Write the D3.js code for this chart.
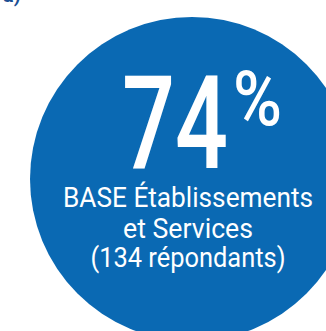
<!DOCTYPE html>
<html>
<head>
<meta charset="utf-8">
<script src="https://cdn.jsdelivr.net/npm/d3@7"></script>
<style>
  html, body { margin: 0; padding: 0; background: #ffffff; }
  svg { display: block; }
  text { font-family: Roboto, "Liberation Sans", sans-serif; }
</style>
</head>
<body>
<script>
// Share of respondents, shown as a single headline figure inside a disc
const shareValues = [74];
const shareUnit = "%";
const labelLines = ["BASE Établissements", "et Services", "(134 répondants)"];
const panelTag = ["a)"];

const W = 326, H = 331;
const svg = d3.select("body").append("svg")
  .attr("width", W).attr("height", H);

// Disc radius scale: full disc corresponds to 100 %
const rScale = d3.scaleLinear().domain([0, 100]).range([0, 162]);
const cx = 192, cy = 179;

svg.append("text")
  .attr("x", 3).attr("y", 2)
  .attr("font-size", 20).attr("font-weight", 700)
  .attr("fill", "#1d4f94")
  .text(panelTag[0]);

svg.selectAll("circle.disc")
  .data([100])
  .join("circle")
  .attr("class", "disc")
  .attr("cx", cx).attr("cy", cy)
  .attr("r", d => rScale(d))
  .attr("fill", "#0a69b3");

// Big number
svg.selectAll("text.big")
  .data(shareValues)
  .join("text")
  .attr("class", "big")
  .attr("x", 122).attr("y", 168)
  .attr("font-size", 129)
  .attr("font-weight", 500)
  .attr("textLength", 106)
  .attr("lengthAdjust", "spacingAndGlyphs")
  .attr("fill", "#ffffff")
  .text(d => d3.format("d")(d));

svg.append("text")
  .attr("x", 233).attr("y", 125)
  .attr("font-size", 76)
  .attr("font-weight", 500)
  .attr("textLength", 49)
  .attr("lengthAdjust", "spacingAndGlyphs")
  .attr("fill", "#ffffff")
  .text(shareUnit);

// Caption lines, condensed to their set widths
const lineY = [207, 238, 267];
const lineW = [250, 130, 195];
svg.selectAll("text.caption")
  .data(labelLines)
  .join("text")
  .attr("class", "caption")
  .attr("x", 188)
  .attr("y", (d, i) => lineY[i])
  .attr("text-anchor", "middle")
  .attr("font-size", 28)
  .attr("textLength", (d, i) => lineW[i])
  .attr("lengthAdjust", "spacingAndGlyphs")
  .attr("fill", "#ffffff")
  .text(d => d);
</script>
</body>
</html>
